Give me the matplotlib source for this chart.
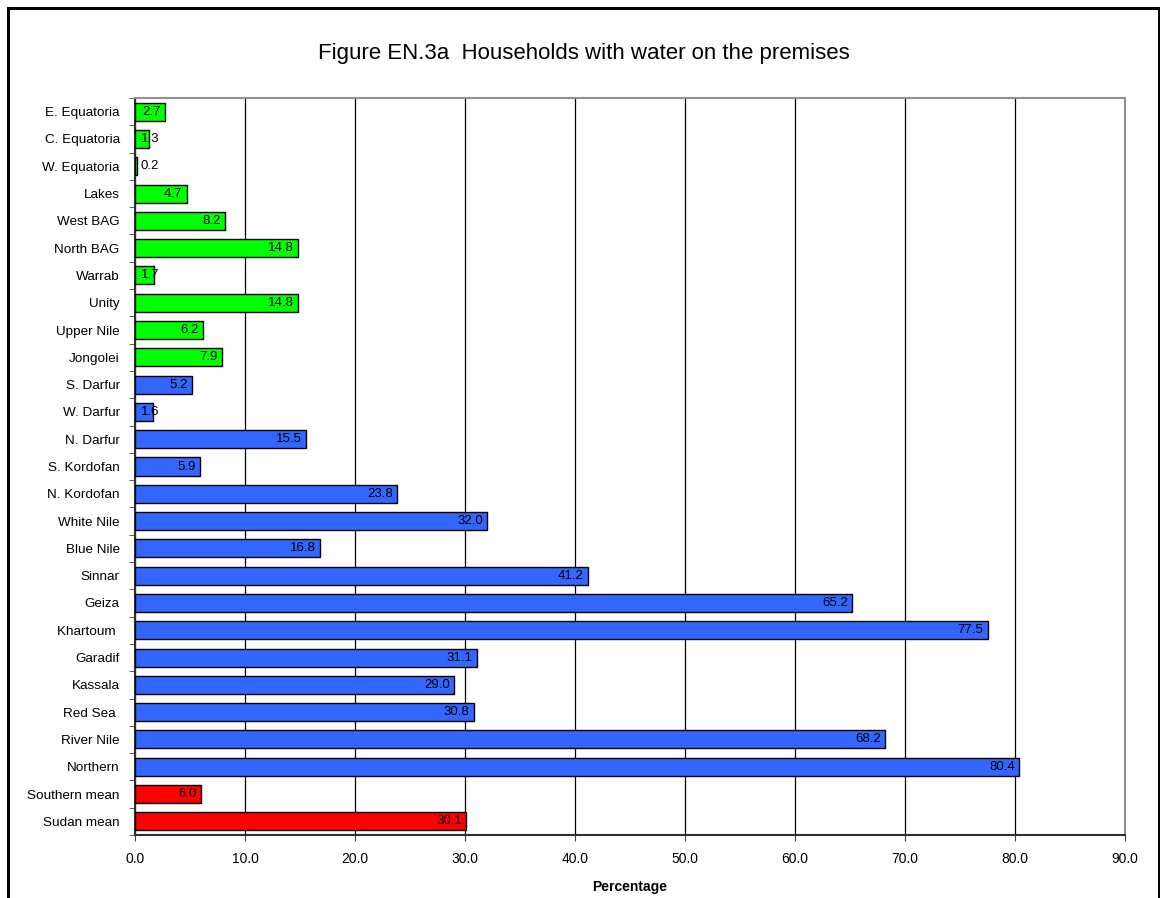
import numpy as np
import matplotlib
matplotlib.use("Agg")
import matplotlib.pyplot as plt
from matplotlib.patches import Rectangle

plt.rcParams['font.family'] = ['Liberation Sans', 'DejaVu Sans']

# data, top to bottom as in the chart
regions = [
    "E. Equatoria", "C. Equatoria", "W. Equatoria", "Lakes", "West BAG",
    "North BAG", "Warrab", "Unity", "Upper Nile", "Jongolei",
    "S. Darfur", "W. Darfur", "N. Darfur", "S. Kordofan", "N. Kordofan",
    "White Nile", "Blue Nile", "Sinnar", "Geiza", "Khartoum ",
    "Garadif", "Kassala", "Red Sea ", "River Nile", "Northern",
    "Southern mean", "Sudan mean"
]
values = [
    2.7, 1.3, 0.2, 4.7, 8.2,
    14.8, 1.7, 14.8, 6.2, 7.9,
    5.2, 1.6, 15.5, 5.9, 23.8,
    32.0, 16.8, 41.2, 65.2, 77.5,
    31.1, 29.0, 30.8, 68.2, 80.4,
    6.0, 30.1
]
groups = ["south"] * 10 + ["north"] * 15 + ["mean"] * 2

group_colors = {"south": "#00FF00", "north": "#3366FF", "mean": "#FF0000"}
colors = [group_colors[g] for g in groups]

fig = plt.figure(figsize=(11.6, 8.98), dpi=100)
ax = fig.add_axes([135 / 1160, 1 - 835 / 898, 990 / 1160, 737 / 898])

y = np.arange(len(regions))
ax.barh(y, values, height=0.66, color=colors, edgecolor="black", linewidth=1.0, zorder=3)

ax.set_ylim(len(regions) - 0.5, -0.5)
ax.set_xlim(0, 90)
ax.set_xticks(np.arange(0, 91, 10))
ax.set_xticklabels([f"{v:.1f}" for v in np.arange(0, 91, 10)], fontsize=10)
ax.set_yticks(y)
ax.set_yticklabels(regions, fontsize=9.7)
ax.set_yticks(np.arange(-0.5, len(regions), 1), minor=True)
ax.tick_params(axis="y", which="major", length=0, pad=11)
ax.tick_params(axis="y", which="minor", length=4, direction="out", color="#404040")
ax.tick_params(axis="x", length=4, direction="out", pad=8, color="#404040")

ax.grid(axis="x", color="black", linewidth=0.9, zorder=0)
ax.set_axisbelow(True)

for side in ["top", "right"]:
    ax.spines[side].set_color("#909090")
    ax.spines[side].set_linewidth(1.5)
for side in ["left", "bottom"]:
    ax.spines[side].set_color("#303030")
    ax.spines[side].set_linewidth(1.5)

# value labels: inside end, pushed off the axis when the bar is too short
for yi, v in zip(y, values):
    if v < 2.3:
        ax.annotate(f"{v:.1f}", (0, yi), xytext=(4, 0), textcoords="offset points",
                    ha="left", va="center", fontsize=9.5, zorder=4)
    else:
        ax.annotate(f"{v:.1f}", (v, yi), xytext=(-3, 0), textcoords="offset points",
                    ha="right", va="center", fontsize=9.5, zorder=4)

ax.set_xlabel("Percentage", fontsize=10, fontweight="bold", labelpad=10)

fig.text(584 / 1160, 1 - 53 / 898, "Figure EN.3a  Households with water on the premises",
         ha="center", va="center", fontsize=16)

# outer chart frame
fig.patches.append(Rectangle((8 / 1160, -0.05), 1151 / 1160, 1.05 - 8 / 898,
                             transform=fig.transFigure, fill=False,
                             edgecolor="black", linewidth=2.2))

fig.savefig("out.png", dpi=100)
